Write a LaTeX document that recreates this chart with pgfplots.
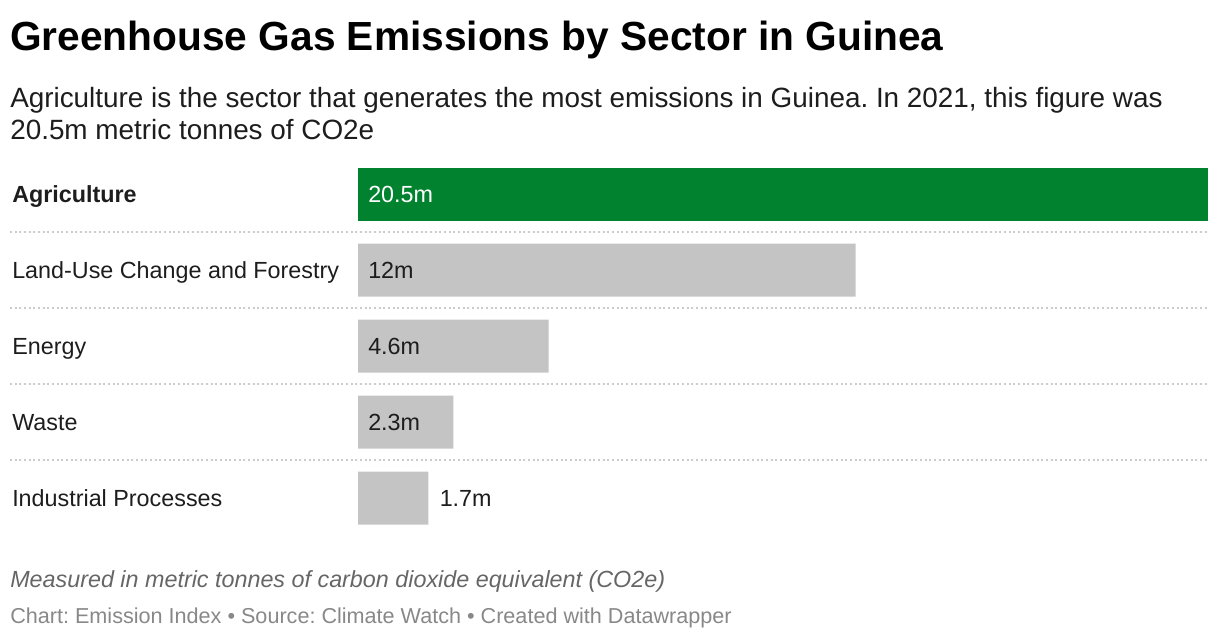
\documentclass[border=0pt]{standalone}
\usepackage{pgfplots}
\pgfplotsset{compat=1.18}
\usepackage{fontspec}
\setmainfont{Liberation Sans}

\definecolor{agri}{HTML}{00822F}
\definecolor{rest}{HTML}{C4C4C4}
\definecolor{ink}{HTML}{1D1D1D}
\definecolor{sep}{HTML}{CCCCCC}
\definecolor{note}{HTML}{666666}
\definecolor{src}{HTML}{888888}

\tikzset{val/.style={anchor=base west, inner sep=0pt, xshift=7.5pt, yshift=-6pt, text=ink, font=\fontsize{17.5}{20}\selectfont}}

\begin{document}
\frenchspacing
\begin{tikzpicture}[x=0.75pt, y=-0.75pt]
\useasboundingbox (0,0) rectangle (1220,640);

% title block
\node[anchor=base west, inner sep=0pt, font=\fontsize{30.5}{36}\selectfont\bfseries, text=black] at (10,50) {Greenhouse Gas Emissions by Sector in Guinea};
\node[anchor=base west, inner sep=0pt, font=\fontsize{20.9}{24}\selectfont, text=ink] at (10,107) {Agriculture is the sector that generates the most emissions in Guinea. In 2021, this figure was};
\node[anchor=base west, inner sep=0pt, font=\fontsize{20.9}{24}\selectfont, text=ink] at (10,139) {20.5m metric tonnes of CO2e};

% row separators
\foreach \yy in {232,308,384,460}
  \draw[sep, line width=1.5pt, dash pattern=on 1.5pt off 2pt] (10,\yy) -- (1208,\yy);

\coordinate (A) at (358,156);
\begin{axis}[
  at={(A)}, anchor=north west,
  scale only axis,
  width=637.5pt, height=285pt,
  xbar, bar width=39.75pt, bar shift=0pt,
  xmin=0, xmax=20.5,
  ymin=-0.5, ymax=4.5,
  y dir=reverse,
  axis line style={draw=none},
  xtick=\empty,
  ytick={0,1,2,3,4},
  yticklabels={\textbf{Agriculture}, Land-Use Change and Forestry, Energy, Waste, Industrial Processes},
  major tick length=0pt,
  yticklabel style={anchor=base west, inner sep=0pt, xshift=-259.5pt, yshift=-6pt, font=\fontsize{17.5}{20}\selectfont, text=ink},
  clip=false,
]
\addplot[draw=none, fill=agri] coordinates {(20.5,0)};
\addplot[draw=none, fill=rest] coordinates {(12,1) (4.6,2) (2.3,3) (1.7,4)};

\node[val, text=white] at (axis cs:0,0) {20.5m};
\node[val] at (axis cs:0,1) {12m};
\node[val] at (axis cs:0,2) {4.6m};
\node[val] at (axis cs:0,3) {2.3m};
\node[val, xshift=0.75pt] at (axis cs:1.7,4) {1.7m};
\end{axis}

% footer
\node[anchor=base west, inner sep=0pt, font=\fontsize{17.5}{20}\selectfont\itshape, text=note] at (10,587) {Measured in metric tonnes of carbon dioxide equivalent (CO2e)};
\node[anchor=base west, inner sep=0pt, font=\fontsize{16.2}{19}\selectfont, text=src] at (10,623) {Chart: Emission Index • Source: Climate Watch • Created with Datawrapper};
\end{tikzpicture}
\end{document}
